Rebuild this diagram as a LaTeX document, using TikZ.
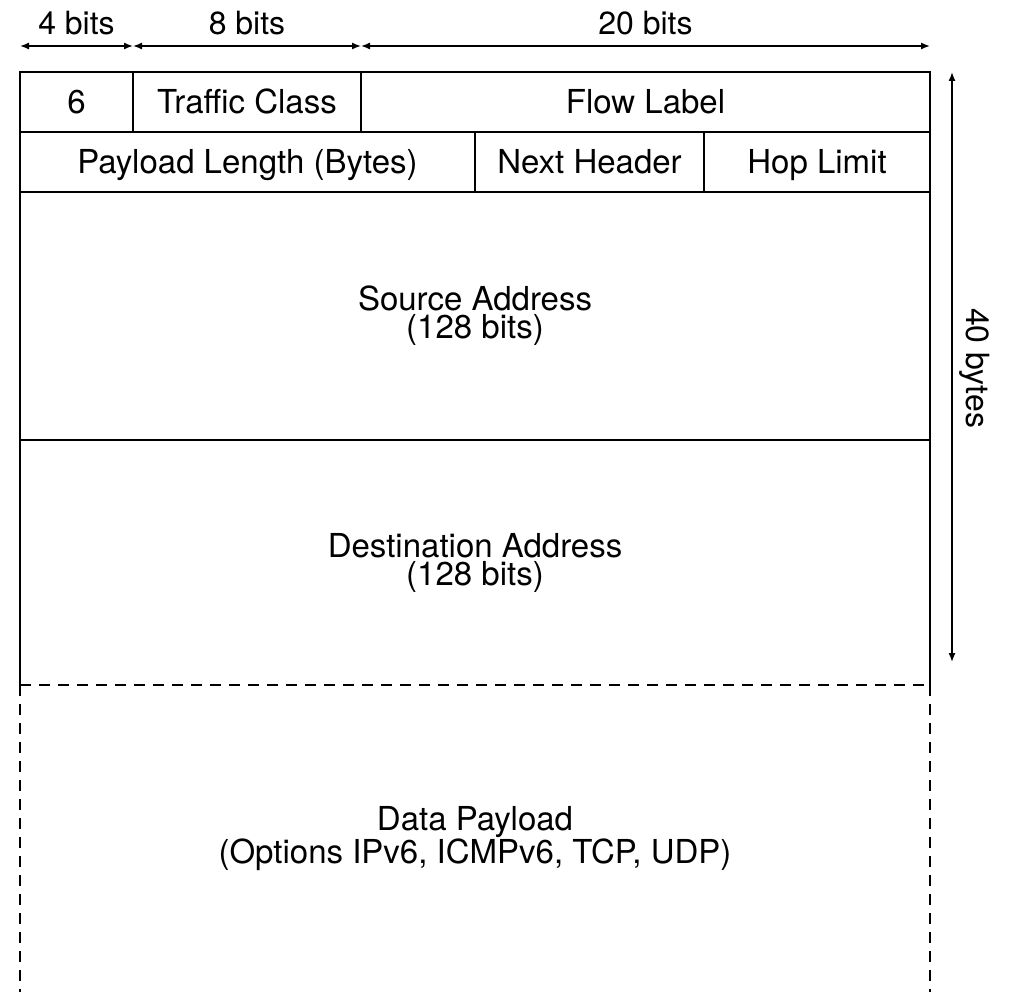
\documentclass[tikz,border=0pt]{standalone}
\usepackage{fontspec}
\setmainfont{TeX Gyre Heros}
\usetikzlibrary{arrows.meta}
\begin{document}
\begin{tikzpicture}[x=1pt,y=-1pt,
  lw/.style={line width=1.4pt},
  cell/.style={draw,lw,anchor=north west,inner sep=0pt,outer sep=0pt,
    font=\fontsize{33}{28}\selectfont,align=center},
  one/.style={cell,text height=24pt,text depth=0pt},
  dim/.style={lw,{Latex[length=9pt,width=7pt]}-{Latex[length=9pt,width=7pt]}},
  lbl/.style={font=\fontsize{32}{27}\selectfont,inner sep=0pt},
  dsh/.style={lw,dash pattern=on 11pt off 8pt}]
\useasboundingbox (0,0) rectangle (1011,992);
% row 1
\node[one,minimum width=113pt,minimum height=60pt] (ver) at (20,72) {6};
\node[one,minimum width=228pt,minimum height=60pt] (tc) at (133,72) {Traffic Class};
\node[one,minimum width=569pt,minimum height=60pt] (fl) at (361,72) {Flow Label};
% row 2
\node[one,minimum width=455pt,minimum height=60pt] (pl) at (20,132) {Payload Length (Bytes)};
\node[one,minimum width=229pt,minimum height=60pt] (nh) at (475,132) {Next Header};
\node[one,minimum width=226pt,minimum height=60pt] (hl) at (704,132) {Hop Limit};
% addresses
\node[cell,minimum width=910pt,minimum height=248pt] (src) at (20,192) {Source Address\\(128 bits)};
\node[cell,draw=none,minimum width=910pt,minimum height=245pt] (dst) at (20,440) {Destination Address\\(128 bits)};
\draw[lw] (dst.south west) -- (dst.north west) -- (dst.north east) -- (dst.south east);
% data payload
\node[cell,draw=none,minimum width=910pt,minimum height=307pt] (data) at (20,685) {Data Payload\\(Options IPv6, ICMPv6, TCP, UDP)};
\draw[dsh] (data.north west) -- (data.north east);
\draw[dsh] (data.north west) -- (data.south west);
\draw[dsh] (data.north east) -- (data.south east);
% top dimensions
\coordinate (d0) at (20,46);
\coordinate (d1) at (133,46);
\coordinate (d2) at (361,46);
\coordinate (d3) at (930,46);
\draw[dim] (d0) -- node[lbl,above=10pt] (b4) {4 bits} (d1);
\draw[dim] (d1) -- node[lbl,above=10pt] (b8) {8 bits} (d2);
\draw[dim] (d2) -- node[lbl,above=10pt] (b20) {20 bits} (d3);
% right dimension
\coordinate (r0) at (952,72);
\coordinate (r1) at (952,662);
\draw[dim] (r0) -- (r1);
\node[lbl,rotate=-90] (by) at (975,368) {40 bytes};
\end{tikzpicture}
\end{document}
